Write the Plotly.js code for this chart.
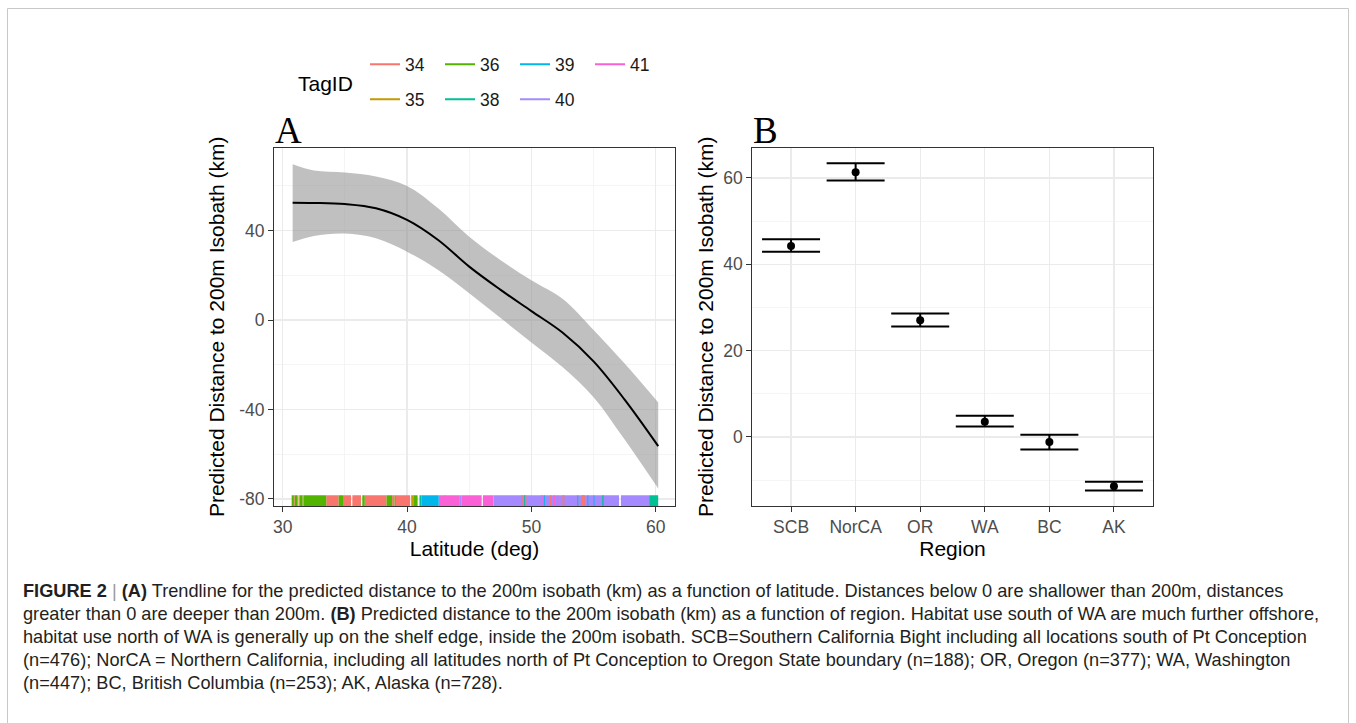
<!DOCTYPE html>
<html>
<head>
<meta charset="utf-8">
<script src="https://cdn.plot.ly/plotly-3.0.1.min.js"></script>
<style>
  html, body { margin: 0; padding: 0; background: #ffffff; }
  #chart { width: 1356px; height: 723px; }
</style>
</head>
<body>
<div id="chart"></div>
<script>
// ---------------- DATA ----------------
// Panel A: smooth trend of predicted distance vs latitude
const latGrid   = [30.8, 32.5, 35, 37.5, 40, 42.5, 45, 47.5, 50, 52.5, 55, 57.5, 60.2];
const fitValues = [52.5, 52.4, 51.9, 50.0, 44.8, 35.8, 23.9, 13.6, 4.0, -5.6, -18.5, -35.6, -56.4];
const fitUpper  = [69.7, 66.9, 66.0, 64.2, 60.0, 50.0, 37.3, 26.9, 17.8, 9.5, -4.5, -19.5, -36.9];
const fitLower  = [34.9, 37.6, 38.7, 36.6, 30.6, 22.4, 12.0, 1.0, -10.0, -21.0, -34.5, -53.5, -75.4];

// Panel A tick labels
const aXTicks = [30, 40, 50, 60];
const aYTicks = [-80, -40, 0, 40];
const aYTickText = ['-80', '-40', '0', '40'];

// Panel A rug: latitude coverage per TagID ([start, end] in degrees)
const tagIDs    = ['34', '35', '36', '38', '39', '40', '41'];
const tagColors = ['#F8766D', '#C49A00', '#53B400', '#00C094', '#00B6EB', '#A58AFF', '#FB61D7'];
const rug34 = [[30.9,30.97],[31.3,31.37],[31.6,31.67],[33.5,34.5],[34.85,35.5],[35.6,36.3],[36.6,38.35],[38.8,39.0],[39.1,40.25],[40.33,40.4],[49.2,49.3],[49.5,49.6],[51.5,51.6],[52.5,52.65],[54.05,54.3]];
const rug35 = [[31.2,31.26],[40.4,40.5]];
const rug36 = [[30.72,30.9],[30.97,31.2],[31.26,31.3],[31.37,31.6],[31.67,33.5],[34.5,34.85],[36.4,36.6],[38.35,38.8],[39.0,39.1],[40.5,40.85]];
const rug38 = [[41.0,41.15],[49.4,49.47],[53.7,53.77],[55.7,55.8],[59.47,60.2]];
const rug39 = [[41.15,42.55],[51.0,51.08],[54.5,54.58],[55.0,55.07]];
const rug40 = [[43.0,43.08],[44.25,44.4],[46.95,57.05],[57.2,59.47]];
const rug41 = [[42.55,44.25],[44.4,46.0],[46.1,46.95],[50.8,50.9],[51.8,51.9],[52.1,52.16]];

// Panel B: predicted distance by region
const regions   = ['SCB', 'NorCA', 'OR', 'WA', 'BC', 'AK'];
const regionEst = [44.2, 61.3, 27.0, 3.5, -1.2, -11.4];
const regionUpr = [45.8, 63.4, 28.6, 4.9, 0.5, -10.4];
const regionLwr = [42.9, 59.4, 25.6, 2.4, -2.9, -12.4];
const bYTicks = [0, 20, 40, 60];

// Caption
const captionLines = [
  '<b>FIGURE 2</b> <span style="color:#9a9a9a">|</span> <b>(A)</b> Trendline for the predicted distance to the 200m isobath (km) as a function of latitude. Distances below 0 are shallower than 200m, distances',
  'greater than 0 are deeper than 200m. <b>(B)</b> Predicted distance to the 200m isobath (km) as a function of region. Habitat use south of WA are much further offshore,',
  'habitat use north of WA is generally up on the shelf edge, inside the 200m isobath. SCB=Southern California Bight including all locations south of Pt Conception',
  '(n=476); NorCA = Northern California, including all latitudes north of Pt Conception to Oregon State boundary (n=188); OR, Oregon (n=377); WA, Washington',
  '(n=447); BC, British Columbia (n=253); AK, Alaska (n=728).'
];

// ---------------- LAYOUT HELPERS ----------------
const W = 1356, H = 723;
const px = v => v / W;
const py = v => 1 - v / H;

const aX = [274, 675], bX = [752.3, 1152.7], panelY = [147.7, 506];
const aXRange = [29.3, 61.55], aYRange = [-83.2, 77.1];
const bXRange = [-0.6, 5.6], bYRange = [-16.0, 67.0];

const tickFont = {family: 'Liberation Sans, Arial, sans-serif', size: 17.5, color: '#4D4D4D'};
const titleFont = {family: 'Liberation Sans, Arial, sans-serif', size: 21, color: '#000000'};

function axisBase() {
  return {
    showline: true, linecolor: '#333333', linewidth: 1, mirror: true,
    ticks: 'outside', ticklen: 5, tickwidth: 1, tickcolor: '#333333',
    tickfont: tickFont, showgrid: true, gridcolor: '#EBEBEB', gridwidth: 1.3,
    zeroline: false, fixedrange: true
  };
}

// ---------------- TRACES ----------------
const traces = [];
traces.push({
  x: latGrid, y: fitLower, type: 'scatter', mode: 'lines',
  line: {width: 0, shape: 'spline', smoothing: 1}, showlegend: false, hoverinfo: 'skip',
  xaxis: 'x', yaxis: 'y'
});
traces.push({
  x: latGrid, y: fitUpper, type: 'scatter', mode: 'lines', fill: 'tonexty',
  fillcolor: 'rgba(140,140,140,0.55)',
  line: {width: 0, shape: 'spline', smoothing: 1}, showlegend: false, hoverinfo: 'skip',
  xaxis: 'x', yaxis: 'y'
});
traces.push({
  x: latGrid, y: fitValues, type: 'scatter', mode: 'lines',
  line: {width: 2, color: '#000000', shape: 'spline', smoothing: 1}, showlegend: false,
  xaxis: 'x', yaxis: 'y'
});

// rug: drawn along the bottom 3% of panel A
const rugMap = {'34': rug34, '35': rug35, '36': rug36, '38': rug38, '39': rug39, '40': rug40, '41': rug41};
const rugFrac = 0.03;
const rugPx = (panelY[1] - panelY[0]) * rugFrac;
const rugY = aYRange[0] + (aYRange[1] - aYRange[0]) * rugFrac / 2;
const rugOrder = ['40', '41', '39', '34', '38', '35', '36'];
rugOrder.forEach(id => {
  const xs = [], ys = [];
  rugMap[id].forEach(r => { xs.push(r[0], r[1], null); ys.push(rugY, rugY, null); });
  traces.push({
    x: xs, y: ys, type: 'scatter', mode: 'lines',
    line: {color: tagColors[tagIDs.indexOf(id)], width: rugPx},
    showlegend: false, hoverinfo: 'skip', xaxis: 'x', yaxis: 'y'
  });
});

// legend entries (two rows like the original: 34 36 39 41 / 35 38 40)
const legendRow1 = ['34', '36', '39', '41'];
const legendRow2 = ['35', '38', '40'];
[[legendRow1, 'legend'], [legendRow2, 'legend2']].forEach(([ids, lg]) => {
  ids.forEach(id => {
    traces.push({
      x: [null], y: [null], type: 'scatter', mode: 'lines', name: id,
      line: {color: tagColors[tagIDs.indexOf(id)], width: 2},
      legend: lg, showlegend: true, hoverinfo: 'skip', xaxis: 'x', yaxis: 'y'
    });
  });
});

// panel B
traces.push({
  x: regions, y: regionEst, type: 'scatter', mode: 'markers',
  marker: {color: '#000000', size: 8},
  error_y: {
    type: 'data', symmetric: false,
    array: regionUpr.map((u, i) => u - regionEst[i]),
    arrayminus: regionLwr.map((l, i) => regionEst[i] - l),
    color: '#000000', thickness: 2, width: 29
  },
  showlegend: false, xaxis: 'x2', yaxis: 'y2'
});

// ---------------- LAYOUT ----------------
const xaxisA = Object.assign(axisBase(), {
  domain: [px(aX[0]), px(aX[1])], range: aXRange, anchor: 'y',
  tickmode: 'array', tickvals: aXTicks, ticktext: aXTicks.map(String),
  minor: {dtick: 5, tick0: 0, showgrid: true, gridcolor: '#F2F2F2', gridwidth: 0.8},
  title: {text: 'Latitude (deg)', font: titleFont, standoff: 4}
});
const yaxisA = Object.assign(axisBase(), {
  domain: [py(panelY[1]), py(panelY[0])], range: aYRange, anchor: 'x',
  tickmode: 'array', tickvals: aYTicks, ticktext: aYTickText,
  minor: {dtick: 20, tick0: 0, showgrid: true, gridcolor: '#F2F2F2', gridwidth: 0.8},
  title: {text: 'Predicted Distance to 200m Isobath (km)', font: titleFont, standoff: 8}
});
const xaxisB = Object.assign(axisBase(), {
  domain: [px(bX[0]), px(bX[1])], range: bXRange, anchor: 'y2',
  type: 'category', categoryorder: 'array', categoryarray: regions,
  title: {text: 'Region', font: titleFont, standoff: 4}
});
const yaxisB = Object.assign(axisBase(), {
  domain: [py(panelY[1]), py(panelY[0])], range: bYRange, anchor: 'x2',
  tickmode: 'array', tickvals: bYTicks, ticktext: bYTicks.map(String),
  minor: {dtick: 10, tick0: 0, showgrid: true, gridcolor: '#F2F2F2', gridwidth: 0.8},
  title: {text: 'Predicted Distance to 200m Isobath (km)', font: titleFont, standoff: 3}
});

const legendBase = {
  orientation: 'h', xanchor: 'left', yanchor: 'middle', traceorder: 'normal',
  font: {family: 'Liberation Sans, Arial, sans-serif', size: 17.5, color: '#1A1A1A'},
  bgcolor: 'rgba(0,0,0,0)', borderwidth: 0,
  entrywidth: 30, entrywidthmode: 'pixels', itemclick: false, itemdoubleclick: false
};

const annotations = [
  {text: 'A', x: px(273), y: py(153), xref: 'paper', yref: 'paper', xanchor: 'left', yanchor: 'bottom',
   showarrow: false, font: {family: 'Liberation Serif, Times New Roman, serif', size: 37, color: '#000000'}},
  {text: 'B', x: px(751), y: py(153), xref: 'paper', yref: 'paper', xanchor: 'left', yanchor: 'bottom',
   showarrow: false, font: {family: 'Liberation Serif, Times New Roman, serif', size: 37, color: '#000000'}},
  {text: 'TagID', x: px(296), y: py(83), xref: 'paper', yref: 'paper', xanchor: 'left', yanchor: 'middle',
   showarrow: false, font: {family: 'Liberation Sans, Arial, sans-serif', size: 21, color: '#000000'}}
];
const capY0 = 591, capStep = 23;
captionLines.forEach((t, i) => {
  annotations.push({
    text: t, x: px(21), y: py(capY0 + i * capStep), xref: 'paper', yref: 'paper',
    xanchor: 'left', yanchor: 'middle', align: 'left', showarrow: false,
    font: {family: 'Liberation Sans, Arial, sans-serif', size: 18.2, color: '#231F20'}
  });
});

const layout = {
  width: W, height: H,
  margin: {l: 0, r: 0, t: 0, b: 0, pad: 0},
  paper_bgcolor: '#ffffff', plot_bgcolor: '#ffffff',
  font: {family: 'Liberation Sans, Arial, sans-serif'},
  xaxis: xaxisA, yaxis: yaxisA, xaxis2: xaxisB, yaxis2: yaxisB,
  showlegend: true,
  legend: Object.assign({}, legendBase, {x: px(365), y: py(64.3)}),
  legend2: Object.assign({}, legendBase, {x: px(365), y: py(99.3)}),
  annotations: annotations,
  shapes: [
    {type: 'rect', xref: 'paper', yref: 'paper', x0: px(7.5), x1: px(1348.5), y0: -0.1, y1: py(8.5),
     line: {color: '#C8C8C8', width: 1}, fillcolor: 'rgba(0,0,0,0)', layer: 'below'}
  ],
  hovermode: false
};

Plotly.newPlot('chart', traces, layout, {displayModeBar: false, staticPlot: true});
</script>
</body>
</html>
